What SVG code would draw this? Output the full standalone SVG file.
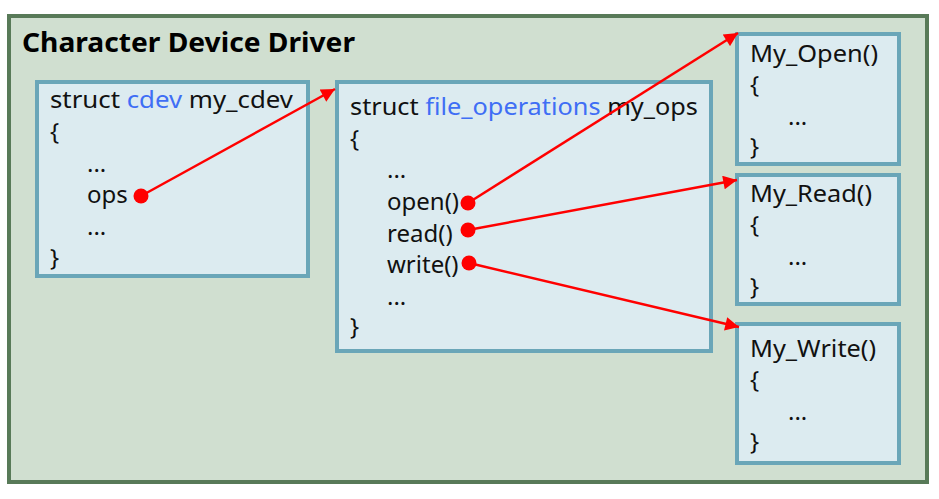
<svg xmlns="http://www.w3.org/2000/svg" width="939" height="499" viewBox="0 0 939 499">
<style>
.box{fill:#dcebf0;stroke:#6aa6b8;stroke-width:4}
.t{font-family:"Noto Sans","Open Sans","DejaVu Sans",sans-serif;font-size:24px;fill:#111}
.b{fill:#3f6ef5}
.c{stroke:#ff0000;stroke-width:2.5;fill:none;marker-end:url(#ah)}
.d{fill:#ff0000}
</style>
<defs>
<marker id="ah" viewBox="0 0 10 10" refX="10" refY="5" markerWidth="6.5" markerHeight="5.5" markerUnits="strokeWidth" orient="auto">
<path d="M0,0 L10,5 L0,10 z" fill="#ff0000"/>
</marker>
</defs>
<rect x="0" y="0" width="939" height="499" fill="#ffffff"/>
<g id="outer">
<rect x="9" y="16" width="918" height="466" fill="#d0dfd0" stroke="#587a58" stroke-width="4"/>
<text x="22" y="52" font-family="'Noto Sans','Open Sans',sans-serif" font-size="27" font-weight="bold" fill="#000" textLength="333" lengthAdjust="spacingAndGlyphs">Character Device Driver</text>
</g>
<g id="cdev">
<rect class="box" x="37" y="82" width="271" height="194"/>
<text class="t" x="50" y="108" textLength="243" lengthAdjust="spacingAndGlyphs">struct <tspan class="b">cdev</tspan> my_cdev</text>
<text class="t" x="50" y="140">{</text>
<text class="t" x="87" y="172">...</text>
<text class="t" x="87" y="203">ops</text>
<text class="t" x="87" y="235">...</text>
<text class="t" x="50" y="266">}</text>
</g>
<g id="fops">
<rect class="box" x="337" y="82" width="374" height="269"/>
<text class="t" x="350" y="115" textLength="348" lengthAdjust="spacingAndGlyphs">struct <tspan class="b">file_operations</tspan> my_ops</text>
<text class="t" x="350" y="147">{</text>
<text class="t" x="387" y="178">...</text>
<text class="t" x="387" y="210">open()</text>
<text class="t" x="387" y="242">read()</text>
<text class="t" x="387" y="273">write()</text>
<text class="t" x="387" y="305">...</text>
<text class="t" x="350" y="335">}</text>
</g>
<g id="myopen">
<rect class="box" x="737" y="34" width="162" height="130"/>
<text class="t" x="750" y="62" textLength="128" lengthAdjust="spacingAndGlyphs">My_Open()</text>
<text class="t" x="750" y="93">{</text>
<text class="t" x="788" y="125">...</text>
<text class="t" x="750" y="155">}</text>
</g>
<g id="myread">
<rect class="box" x="737" y="175" width="162" height="129"/>
<text class="t" x="750" y="202" textLength="122" lengthAdjust="spacingAndGlyphs">My_Read()</text>
<text class="t" x="750" y="233">{</text>
<text class="t" x="788" y="265">...</text>
<text class="t" x="750" y="295">}</text>
</g>
<g id="mywrite">
<rect class="box" x="737" y="324" width="162" height="139"/>
<text class="t" x="750" y="357" textLength="126" lengthAdjust="spacingAndGlyphs">My_Write()</text>
<text class="t" x="750" y="388">{</text>
<text class="t" x="788" y="420">...</text>
<text class="t" x="750" y="450">}</text>
</g>
<g id="connectors">
<line class="c" x1="141" y1="196" x2="335" y2="89"/>
<line class="c" x1="468" y1="203" x2="738" y2="33"/>
<line class="c" x1="468" y1="230" x2="737" y2="180"/>
<line class="c" x1="469" y1="263" x2="739" y2="327"/>
<circle class="d" cx="141" cy="196" r="7.5"/>
<circle class="d" cx="468" cy="203" r="7.5"/>
<circle class="d" cx="468" cy="230" r="7.5"/>
<circle class="d" cx="469" cy="263" r="7.5"/>
</g>
</svg>
